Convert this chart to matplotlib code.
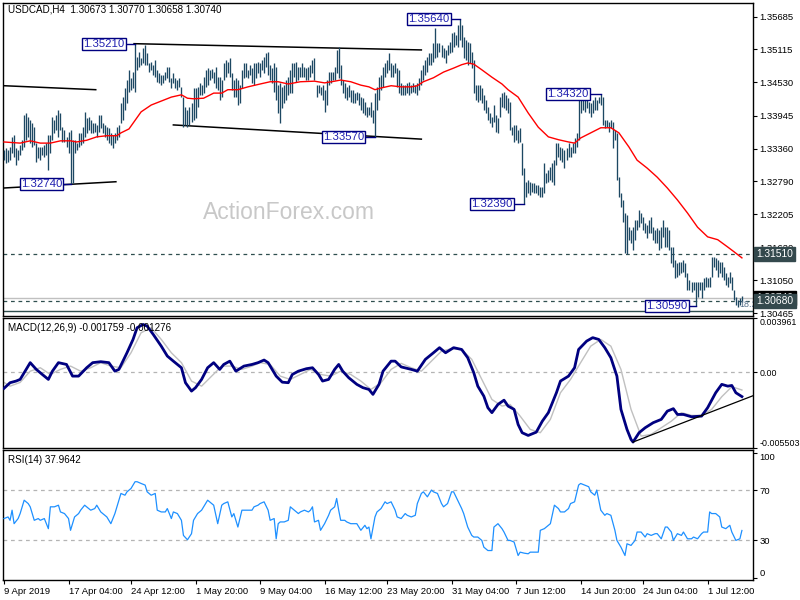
import matplotlib
matplotlib.use('Agg')
import matplotlib.pyplot as plt
import numpy as np

# ---------------- data ----------------
symbol_header = "USDCAD,H4  1.30673 1.30770 1.30658 1.30740"
macd_header = "MACD(12,26,9) -0.001759 -0.001276"
rsi_header = "RSI(14) 37.9642"

highs = [
1.3334,1.3338,1.3334,1.3339,1.3357,1.3360,1.3338,1.3334,1.3343,1.3352,
1.3396,1.3399,1.3392,1.3387,1.3382,1.3375,1.3346,1.3339,1.3339,1.3339,
1.3343,1.3346,1.3360,1.3360,1.3392,1.3387,1.3396,1.3404,1.3399,1.3375,
1.3369,1.3357,1.3366,1.3369,1.3352,1.3352,1.3346,1.3364,1.3364,1.3375,
1.3401,1.3390,1.3392,1.3387,1.3382,1.3382,1.3378,1.3396,1.3396,1.3382,
1.3378,1.3375,1.3373,1.3364,1.3360,1.3364,1.3375,1.3378,1.3417,1.3427,
1.3443,1.3457,1.3475,1.3461,1.3471,1.3521,1.3498,1.3507,1.3496,1.3514,
1.3519,1.3505,1.3487,1.3489,1.3484,1.3492,1.3475,1.3470,1.3466,1.3466,
1.3471,1.3480,1.3480,1.3461,1.3470,1.3461,1.3457,1.3461,1.3445,1.3427,
1.3410,1.3404,1.3410,1.3417,1.3443,1.3443,1.3445,1.3452,1.3448,1.3463,
1.3475,1.3478,1.3475,1.3477,1.3471,1.3480,1.3463,1.3463,1.3457,1.3487,
1.3492,1.3489,1.3496,1.3470,1.3457,1.3461,1.3457,1.3448,1.3475,1.3487,
1.3487,1.3475,1.3484,1.3478,1.3487,1.3487,1.3489,1.3487,1.3492,1.3498,
1.3505,1.3507,1.3484,1.3478,1.3487,1.3480,1.3448,1.3452,1.3445,1.3448,
1.3457,1.3463,1.3475,1.3487,1.3487,1.3489,1.3480,1.3480,1.3487,1.3480,
1.3478,1.3480,1.3484,1.3492,1.3496,1.3448,1.3448,1.3445,1.3448,1.3440,
1.3457,1.3471,1.3471,1.3471,1.3480,1.3510,1.3515,1.3484,1.3457,1.3452,
1.3445,1.3448,1.3440,1.3440,1.3434,1.3436,1.3434,1.3427,1.3426,1.3419,
1.3410,1.3410,1.3419,1.3404,1.3434,1.3445,1.3463,1.3466,1.3480,1.3487,
1.3492,1.3505,1.3487,1.3484,1.3487,1.3478,1.3475,1.3452,1.3448,1.3448,
1.3452,1.3454,1.3448,1.3452,1.3448,1.3452,1.3461,1.3475,1.3484,1.3492,
1.3498,1.3505,1.3505,1.3522,1.3549,1.3522,1.3522,1.3519,1.3514,1.3510,
1.3519,1.3524,1.3540,1.3542,1.3536,1.3554,1.3564,1.3554,1.3533,1.3528,
1.3524,1.3522,1.3507,1.3492,1.3448,1.3448,1.3448,1.3443,1.3431,1.3422,
1.3410,1.3399,1.3392,1.3413,1.3396,1.3390,1.3427,1.3434,1.3436,1.3431,
1.3426,1.3419,1.3375,1.3378,1.3378,1.3369,1.3373,1.3346,1.3302,
1.3278,1.3281,1.3278,1.3276,1.3276,1.3272,1.3272,1.3269,1.3269,1.3311,
1.3294,1.3299,1.3304,1.3311,1.3316,1.3346,1.3346,1.3339,1.3338,1.3334,
1.3338,1.3346,1.3339,1.3346,1.3355,1.3364,1.3433,1.3427,1.3426,1.3422,
1.3422,1.3419,1.3417,1.3422,1.3427,1.3422,1.3427,1.3433,1.3427,1.3387,
1.3387,1.3383,1.3387,1.3383,1.3369,1.3364,1.3287,1.3258,1.3246,1.3223,
1.3220,1.3199,1.3193,1.3199,1.3211,1.3211,1.3228,1.3223,1.3216,1.3206,
1.3202,1.3211,1.3216,1.3199,1.3193,1.3197,1.3193,1.3199,1.3211,1.3199,
1.3199,1.3193,1.3163,1.3163,1.3140,1.3135,1.3137,1.3137,1.3140,1.3135,
1.3118,1.3105,1.3102,1.3102,1.3102,1.3102,1.3102,1.3102,1.3109,1.3111,
1.3109,1.3111,1.3146,1.3146,1.3144,1.3140,1.3137,1.3137,1.3128,1.3118,
1.3111,1.3119,1.3111,1.3088,1.3075,1.3070,1.3074,1.3077]

lows = [
1.3316,1.3311,1.3313,1.3316,1.3329,1.3322,1.3308,1.3316,1.3325,1.3334,
1.3339,1.3352,1.3357,1.3346,1.3339,1.3343,1.3313,1.3320,1.3316,1.3325,
1.3322,1.3325,1.3299,1.3329,1.3352,1.3364,1.3369,1.3357,1.3369,1.3348,
1.3348,1.3339,1.3329,1.3274,1.3276,1.3329,1.3334,1.3339,1.3343,1.3346,
1.3357,1.3364,1.3369,1.3364,1.3364,1.3366,1.3357,1.3366,1.3373,1.3364,
1.3357,1.3352,1.3346,1.3343,1.3338,1.3346,1.3352,1.3357,1.3382,1.3387,
1.3404,1.3417,1.3436,1.3440,1.3443,1.3436,1.3475,1.3480,1.3484,1.3487,
1.3484,1.3484,1.3471,1.3475,1.3466,1.3463,1.3454,1.3452,1.3448,1.3452,
1.3457,1.3461,1.3454,1.3443,1.3452,1.3443,1.3440,1.3445,1.3427,1.3375,
1.3378,1.3375,1.3378,1.3383,1.3387,1.3390,1.3410,1.3431,1.3431,1.3434,
1.3445,1.3448,1.3457,1.3461,1.3452,1.3443,1.3440,1.3422,1.3427,1.3457,
1.3463,1.3470,1.3463,1.3440,1.3427,1.3427,1.3413,1.3417,1.3443,1.3461,
1.3463,1.3461,1.3466,1.3452,1.3448,1.3461,1.3470,1.3463,1.3475,1.3470,
1.3480,1.3466,1.3457,1.3452,1.3436,1.3422,1.3399,1.3382,1.3408,1.3417,
1.3422,1.3431,1.3434,1.3434,1.3463,1.3454,1.3457,1.3463,1.3463,1.3463,
1.3457,1.3457,1.3463,1.3470,1.3457,1.3427,1.3434,1.3431,1.3422,1.3401,
1.3413,1.3448,1.3452,1.3457,1.3457,1.3470,1.3461,1.3448,1.3434,1.3426,
1.3422,1.3427,1.3419,1.3417,1.3417,1.3422,1.3413,1.3404,1.3399,1.3396,
1.3392,1.3396,1.3392,1.3382,1.3357,1.3404,1.3422,1.3440,1.3445,1.3463,
1.3470,1.3475,1.3463,1.3463,1.3470,1.3445,1.3434,1.3431,1.3431,1.3431,
1.3434,1.3431,1.3434,1.3436,1.3434,1.3431,1.3440,1.3448,1.3457,1.3466,
1.3471,1.3484,1.3484,1.3489,1.3496,1.3498,1.3507,1.3498,1.3496,1.3487,
1.3501,1.3505,1.3507,1.3515,1.3519,1.3515,1.3528,1.3515,1.3496,1.3492,
1.3484,1.3487,1.3478,1.3434,1.3422,1.3419,1.3422,1.3417,1.3404,1.3399,
1.3387,1.3382,1.3375,1.3383,1.3366,1.3364,1.3392,1.3410,1.3408,1.3404,
1.3399,1.3369,1.3360,1.3348,1.3352,1.3346,1.3348,1.3290,1.3239,
1.3251,1.3258,1.3255,1.3260,1.3258,1.3258,1.3255,1.3251,1.3251,1.3258,
1.3276,1.3278,1.3281,1.3278,1.3272,1.3308,1.3322,1.3316,1.3313,1.3302,
1.3316,1.3322,1.3322,1.3329,1.3329,1.3339,1.3352,1.3399,1.3404,1.3401,
1.3408,1.3399,1.3392,1.3399,1.3404,1.3404,1.3417,1.3413,1.3378,1.3373,
1.3375,1.3366,1.3373,1.3338,1.3352,1.3281,1.3251,1.3234,1.3207,1.3153,
1.3151,1.3176,1.3170,1.3158,1.3176,1.3193,1.3199,1.3206,1.3193,1.3188,
1.3179,1.3188,1.3188,1.3176,1.3170,1.3170,1.3158,1.3162,1.3181,1.3163,
1.3163,1.3158,1.3135,1.3128,1.3109,1.3111,1.3114,1.3118,1.3119,1.3111,
1.3088,1.3088,1.3084,1.3088,1.3059,1.3075,1.3088,1.3074,1.3088,1.3093,
1.3093,1.3093,1.3111,1.3128,1.3123,1.3111,1.3118,1.3111,1.3105,1.3096,
1.3093,1.3100,1.3088,1.3070,1.3061,1.3058,1.3061,1.3066]

ma_bar = [0,8,13,18,23,28,33,36,41,46,51,56,58,62,68,73,78,83,88,91,
          94,99,104,108,111,116,121,127,132,136,141,147,154,159,164,167,172,177,181,184,
          187,192,197,202,205,208,213,218,223,227,230,233,237,242,247,250,255,260,265,270,
          275,280,283,286,291,296,301,305,310,314,319,324,329,334,339,344,349,354,359,362,366]
ma_val = [1.3348,1.3346,1.3350,1.3346,1.3346,1.3350,1.3350,1.3348,1.3351,1.3357,
          1.3359,1.3359,1.3364,1.3371,1.3401,1.3413,1.3420,1.3427,1.3431,1.3425,
          1.3424,1.3425,1.3434,1.3434,1.3440,1.3440,1.3445,1.3450,1.3454,1.3454,
          1.3450,1.3454,1.3455,1.3452,1.3455,1.3457,1.3454,1.3448,1.3445,1.3440,
          1.3443,1.3447,1.3445,1.3445,1.3447,1.3454,1.3461,1.3471,1.3478,1.3484,
          1.3487,1.3485,1.3475,1.3462,1.3450,1.3440,1.3427,1.3399,1.3374,1.3357,
          1.3352,1.3348,1.3346,1.3355,1.3364,1.3373,1.3373,1.3364,1.3339,1.3316,
          1.3302,1.3286,1.3267,1.3246,1.3223,1.3198,1.3181,1.3176,1.3163,1.3155,1.3144]

macd_bar = [0,3,6,8,11,13,16,19,22,24,27,31,34,37,41,44,48,52,55,57,
            61,64,66,69,71,74,78,81,84,88,90,93,95,98,101,104,107,109,112,115,
            119,123,126,129,131,135,138,141,143,146,150,153,156,158,161,164,166,168,171,175,
            178,181,183,186,188,192,194,197,202,205,209,213,216,219,223,227,230,233,235,238,
            240,242,245,248,250,253,255,257,260,264,267,270,274,276,280,283,285,289,292,295,
            298,301,304,306,309,311,312,315,318,322,326,329,332,334,337,341,346,349,353,356,
            359,361,363,366]
macd_val = [-0.00116,-0.00075,-0.00063,-0.00051,0.00022,0.00071,0.00022,-0.00015,-0.00051,0.00009,
            0.00071,0.00058,-0.00027,-0.00027,0.00034,0.00071,0.00078,0.00071,0.00009,0.00022,
            0.00143,0.00240,0.00325,0.00349,0.00337,0.00277,0.00191,0.00119,0.00082,0.00034,
            -0.00075,-0.00136,-0.00111,-0.00051,0.00034,0.00071,0.00022,0.00058,0.00082,0.00009,
            0.00046,0.00058,0.00071,0.00090,0.00071,-0.00027,-0.00071,-0.00075,-0.00015,0.00009,
            0.00027,0.00034,-0.00015,-0.00063,-0.00051,0.00022,0.00058,0.00009,-0.00039,-0.00087,
            -0.00111,-0.00124,-0.00160,-0.00087,0.00009,0.00082,0.00082,0.00040,0.00022,0.00009,
            0.00095,0.00143,0.00180,0.00143,0.00180,0.00167,0.00107,-0.00002,-0.00100,-0.00173,
            -0.00257,-0.00293,-0.00233,-0.00202,-0.00245,-0.00269,-0.00379,-0.00439,-0.00459,-0.00435,
            -0.00355,-0.00293,-0.00148,-0.00063,-0.00027,0.00034,0.00167,0.00228,0.00253,0.00240,
            0.00180,0.00107,-0.00027,-0.00269,-0.00415,-0.00488,-0.00507,-0.00439,-0.00403,-0.00366,
            -0.00342,-0.00282,-0.00264,-0.00306,-0.00306,-0.00323,-0.00318,-0.00257,-0.00148,-0.00087,
            -0.00100,-0.00095,-0.00148,-0.00176]

sig_bar = [0,3,8,13,18,23,28,33,38,43,48,53,58,63,68,73,78,83,88,93,
           98,103,108,113,118,123,127,132,137,142,147,152,157,162,167,172,177,182,187,192,
           197,202,207,212,217,222,227,232,237,242,247,251,256,261,266,271,276,281,286,291,
           296,301,306,311,316,321,326,331,336,341,346,351,356,361,366]
sig_val = [-0.00073,-0.00100,-0.00073,0.00009,0.00034,-0.00015,0.00022,0.00046,0.00009,0.00034,
           0.00071,0.00046,0.00034,0.00143,0.00289,0.00325,0.00240,0.00143,0.00071,-0.00063,
           -0.00100,-0.00027,0.00046,0.00046,0.00022,0.00046,0.00071,0.00058,-0.00027,-0.00051,
           -0.00015,0.00022,-0.00015,-0.00027,0.00009,-0.00015,-0.00063,-0.00124,-0.00075,0.00022,
           0.00066,0.00034,0.00009,0.00082,0.00155,0.00173,0.00167,0.00095,-0.00051,-0.00197,
           -0.00245,-0.00233,-0.00318,-0.00415,-0.00439,-0.00342,-0.00148,-0.00051,0.00071,0.00191,
           0.00240,0.00191,0.00022,-0.00269,-0.00464,-0.00451,-0.00403,-0.00355,-0.00293,-0.00313,
           -0.00313,-0.00269,-0.00177,-0.00104,-0.00128]

rsi_bar = [0,2,3,4,5,7,8,10,12,13,15,17,18,20,22,23,25,27,28,30,
           32,33,35,37,38,40,41,43,45,46,48,50,51,53,55,56,58,60,61,63,
           65,66,68,70,71,73,75,76,78,80,81,83,84,86,88,89,91,93,94,96,
           98,99,101,103,104,106,108,109,111,113,114,116,118,119,121,123,124,126,127,129,
           131,132,134,135,136,137,139,141,142,144,146,147,149,151,152,153,154,156,157,159,
           161,162,164,165,166,167,169,170,172,174,175,177,179,180,181,182,184,185,187,189,
           190,192,194,195,197,199,200,202,204,205,207,208,210,212,213,215,217,218,220,222,
           223,225,227,228,230,232,233,235,237,238,240,242,243,245,247,248,250,251,253,255,
           256,258,260,261,263,265,266,268,270,271,273,275,276,278,280,281,283,285,286,288,
           290,291,293,294,296,298,299,301,303,304,306,308,309,311,313,314,316,318,319,321,
           323,324,326,328,329,331,332,334,336,337,339,341,342,344,346,347,349,350,351,353,
           355,356,358,360,361,363,365,366]
rsi_val = [47.5,48.8,46.1,54.2,43.4,47.5,51.5,62.2,59.5,56.9,
           46.1,47.5,46.1,47.5,39.4,56.9,56.9,58.2,52.8,51.5,
           47.5,38.1,48.8,51.5,54.2,58.2,56.9,54.2,55.5,58.2,
           52.8,50.1,48.8,43.4,51.5,56.9,67.6,66.2,68.9,71.6,
           77.0,77.0,75.6,74.3,68.9,66.2,67.6,54.2,52.8,52.8,
           55.5,47.5,52.8,51.5,46.1,34.0,30.5,35.4,46.1,51.5,
           54.2,56.9,62.2,59.5,58.2,43.4,58.2,59.5,60.9,48.8,
           51.5,40.7,54.2,54.2,54.2,54.2,56.9,58.2,59.5,60.9,
           54.2,46.1,47.5,31.3,43.4,44.8,44.8,46.1,56.9,54.2,
           51.5,52.8,54.2,52.8,54.2,56.9,44.8,46.1,38.1,43.4,
           50.1,54.2,56.9,63.6,54.2,46.1,46.1,44.8,43.4,43.4,
           43.4,38.1,42.1,39.4,40.7,31.3,48.8,52.8,55.5,60.9,
           59.5,60.9,54.2,48.8,47.5,51.5,50.1,48.8,50.1,59.5,
           67.6,68.9,64.9,70.3,68.9,67.6,59.5,56.9,59.5,68.9,
           68.9,62.2,55.5,51.5,40.7,34.0,32.7,32.7,30.0,24.6,
           21.9,21.9,40.7,43.4,39.4,36.7,30.0,30.0,28.7,17.9,
           20.6,19.8,19.3,20.6,20.6,20.6,38.1,39.4,42.1,43.4,
           58.2,55.5,52.8,52.8,55.5,59.5,60.9,74.3,75.6,74.3,
           73.0,68.9,66.2,70.3,54.2,50.1,51.5,50.1,38.1,30.0,
           24.6,17.9,27.3,26.0,30.0,36.7,36.7,32.7,35.4,34.0,
           35.4,35.4,31.3,40.7,40.7,36.7,30.0,35.4,34.0,36.7,
           31.3,31.3,32.7,31.3,35.4,36.7,36.7,52.8,51.5,51.5,
           48.8,40.7,39.4,42.1,36.7,30.0,31.3,37.96]

time_ticks = [0, 32, 63, 95, 127, 159, 190, 222, 254, 286, 317, 349]
time_labels = ["9 Apr 2019", "17 Apr 04:00", "24 Apr 12:00", "1 May 20:00", "9 May 04:00",
               "16 May 12:00", "23 May 20:00", "31 May 04:00", "7 Jun 12:00", "14 Jun 20:00",
               "24 Jun 04:00", "1 Jul 12:00"]
price_ticks = [1.35685, 1.35115, 1.34530, 1.33945, 1.33360, 1.32790, 1.32205, 1.31620, 1.31050, 1.30465]
macd_ticks = [0.003961, 0.0, -0.005503]
macd_tick_labels = ["0.003961", "0.00", "-0.005503"]
rsi_ticks = [100, 70, 30, 0]

# trend lines (bar, price) pairs
channel_lines = [((64.5, 1.3521), (207, 1.3510)),
                 ((84, 1.3378), (207, 1.3353)),
                 ((0, 1.3447), (45.5, 1.3440)),
                 ((0, 1.3267), (55.5, 1.3278))]
macd_trend = ((312, -0.00507), (372, -0.00167))

# swing labels: text, bar, price
swing_text = ["1.35210", "1.32740", "1.33570", "1.35640", "1.34320", "1.32390", "1.30590"]
swing_bar = [65, 33, 184, 226, 296, 258, 343]
swing_price = [1.3521, 1.3274, 1.3357, 1.3564, 1.3432, 1.3239, 1.3059]

levels_dashed = [1.3151, 1.3068]
bid_price = 1.3074
line_level = 1.3051

# ---------------- figure ----------------
W, H = 800, 600
fig = plt.figure(figsize=(8, 6), dpi=100)
fig.patch.set_facecolor('white')

def px_axes(top, bottom, left=3, right=753):
    return fig.add_axes([left / W, 1 - bottom / H, (right - left) / W, (bottom - top) / H])

ax1 = px_axes(3, 316)
ax2 = px_axes(318, 448)
ax3 = px_axes(450, 580)

FONT = 'Liberation Sans'
FS = 6.8
bar_col = '#1d4863'
n = len(highs)
x = np.arange(n)
XL = (-0.5, 371.5)

for ax in (ax1, ax2, ax3):
    ax.set_xlim(*XL)
    for s in ax.spines.values():
        s.set_color('black')
        s.set_linewidth(1.0)
    ax.yaxis.tick_right()
    ax.tick_params(axis='y', direction='out', length=3, width=0.8, labelsize=FS, pad=1.5,
                   colors='black')
    ax.set_facecolor('white')

# ---- price panel ----
ax1.set_ylim(1.30417, 1.35926)
ax1.vlines(x, lows, highs, color=bar_col, lw=0.95, zorder=3)
ax1.plot(ma_bar, ma_val, color='#ff0000', lw=1.0, zorder=4)
for (a, b) in channel_lines:
    ax1.plot([a[0], b[0]], [a[1], b[1]], color='black', lw=1.1, zorder=2)
for lv in levels_dashed:
    ax1.axhline(lv, color='#2f4f4f', lw=0.9, ls=(0, (3, 3)), zorder=1)
ax1.axhline(bid_price, color='#c0c0c0', lw=1.0, zorder=1)
ax1.axhline(line_level, color='#2f4f4f', lw=1.0, zorder=1)
ax1.set_xticks([])
ax1.set_yticks(price_ticks)
ax1.set_yticklabels([f"{t:.5f}" for t in price_ticks], fontfamily=FONT)

offsets = [5, 3.8, 5, 4.6, 5.6, 5.4, 3.6]
for t, b, p, off in zip(swing_text, swing_bar, swing_price, offsets):
    ax1.plot([b - off, b], [p, p], color='#000080', lw=1.0, zorder=5)
    ax1.text(b - off - 0.3, p, t, ha='right', va='center', fontsize=8.2, fontfamily=FONT,
             color='#2020b0', zorder=6,
             bbox=dict(boxstyle='square,pad=0.1', fc='white', ec='#000080', lw=1.0))

ax1.text(0.381, 0.33, 'ActionForex.com', transform=ax1.transAxes, ha='center', va='center',
         fontsize=16.5, fontfamily='Liberation Sans', color='#c8c8c8', zorder=0)
ax1.text(5 / 750, 1 - 7 / 313, symbol_header, transform=ax1.transAxes, ha='left', va='center',
         fontsize=FS + 0.3, fontfamily=FONT, color='black')
ax1.text(364.5, 1.3062, '18.2', fontsize=6.4, fontfamily=FONT, color='#56708a', ha='left',
         va='center', clip_on=True, zorder=6)

# right-side price boxes
def price_box(ax, val, txt, fc, tc='white', z=10):
    ax.annotate(txt, xy=(1.0, val), xycoords=('axes fraction', 'data'), xytext=(2.5, 0),
                textcoords='offset points', ha='left', va='center', fontsize=FS + 0.6,
                fontfamily=FONT, color=tc, annotation_clip=False, zorder=z,
                bbox=dict(boxstyle='square,pad=0.2', fc=fc, ec=fc))

price_box(ax1, bid_price, f"{bid_price:.5f}", 'black', z=10)
price_box(ax1, levels_dashed[0], f"{levels_dashed[0]:.5f}", '#34494d', z=11)
price_box(ax1, levels_dashed[1], f"{levels_dashed[1]:.5f}", '#34494d', z=12)

# ---- MACD panel ----
ax2.set_ylim(-0.005503, 0.003961)
ax2.axhline(0, color='#b4b4b4', lw=0.9, ls=(0, (3, 3)), zorder=1)
ax2.plot(sig_bar, sig_val, color='#c0c0c0', lw=1.0, zorder=2)
ax2.plot(macd_bar, macd_val, color='#000080', lw=2.0, zorder=3)
ax2.plot([macd_trend[0][0], macd_trend[1][0]], [macd_trend[0][1], macd_trend[1][1]],
         color='black', lw=0.9, zorder=4)
ax2.set_xticks([])
ax2.set_yticks(macd_ticks)
lbls = ax2.set_yticklabels(macd_tick_labels, fontfamily=FONT, fontsize=6.4)
lbls[0].set_va('top')
lbls[2].set_va('bottom')
ax2.text(5 / 750, 1 - 10 / 130, macd_header, transform=ax2.transAxes, ha='left', va='center',
         fontsize=FS + 0.3, fontfamily=FONT, color='black')

# ---- RSI panel ----
ax3.set_ylim(-1.7, 102.4)
for lv in (70, 30):
    ax3.axhline(lv, color='#b4b4b4', lw=0.9, ls=(0, (3, 3)), zorder=1)
ax3.plot(rsi_bar, rsi_val, color='#1e90ff', lw=0.9, zorder=3)
ax3.set_yticks(rsi_ticks)
rl = ax3.set_yticklabels([str(t) for t in rsi_ticks], fontfamily=FONT)
rl[0].set_va('top')
rl[3].set_va('bottom')
ax3.text(5 / 750, 1 - 10 / 130, rsi_header, transform=ax3.transAxes, ha='left', va='center',
         fontsize=FS + 0.3, fontfamily=FONT, color='black')
ax3.set_xticks(time_ticks)
xl = ax3.set_xticklabels(time_labels, fontfamily=FONT, fontsize=FS)
for t in xl:
    t.set_ha('left')
ax3.tick_params(axis='x', direction='out', length=3, width=0.8, pad=2)

fig.savefig('out.png', dpi=100, facecolor='white')
